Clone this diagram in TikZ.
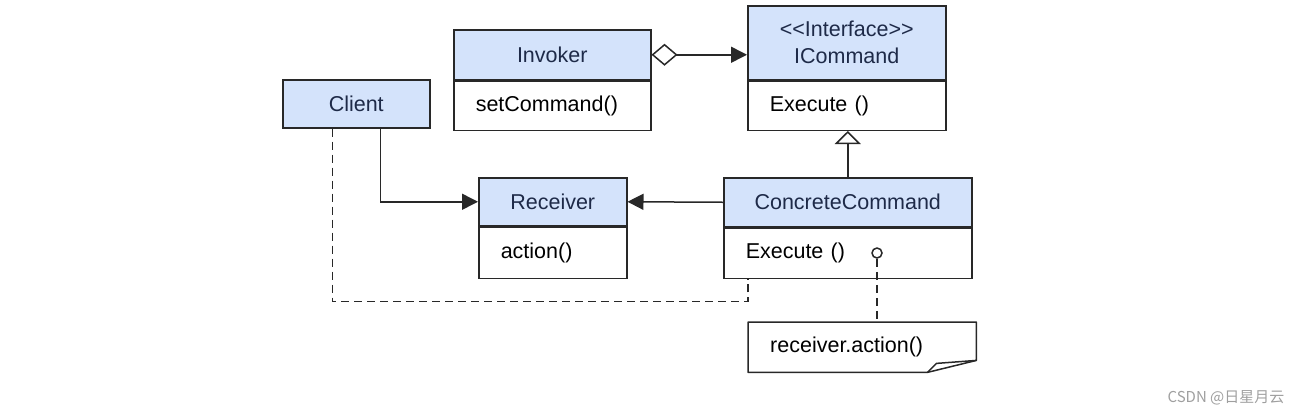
\documentclass[tikz,border=0pt]{standalone}
\usepackage{fontspec}
\setmainfont{Liberation Sans}
\newfontfamily\cjk{Noto Sans CJK SC}
\usepackage{tikz}
\usetikzlibrary{arrows.meta, positioning, calc}

\definecolor{headblue}{RGB}{212,227,251}
\definecolor{headtext}{RGB}{30,42,72}
\definecolor{edge}{RGB}{40,40,40}

\begin{document}
\begin{tikzpicture}[
  x=1pt, y=-1pt,
  font=\fontsize{21.5}{27}\selectfont,
  head/.style={draw=edge, line width=1.5pt, fill=headblue, text=headtext,
               anchor=north west, inner sep=0pt, align=center},
  body/.style={draw=edge, line width=1.5pt, fill=white, inner xsep=22pt,
               inner ysep=0pt, align=left},
  notebox/.style={inner xsep=22pt, inner ysep=0pt, align=left, anchor=north west},
  line/.style={draw=edge, line width=1.5pt},
  arr/.style={line, -{Triangle[length=16pt, width=16pt]}},
  dep/.style={line, dash pattern=on 8pt off 5pt},
  ring/.style={circle, draw=edge, line width=1.5pt, fill=white, minimum size=10pt, inner sep=0pt}
]
  \useasboundingbox (0,0) rectangle (1309,416);

  % classes
  \node[head, minimum width=197pt, minimum height=50pt] (invH) at (453,29) {Invoker};
  \node[body, text width=153pt, minimum height=49pt, below=0pt of invH] (invB) {setCommand()};

  \node[head, minimum width=198pt, minimum height=74pt] (icH) at (747,5)
    {<\kern0pt<Interface>\kern0pt>\\ICommand};
  \node[body, text width=154pt, minimum height=49pt, below=0pt of icH] (icB) {Execute ()};

  \node[head, minimum width=147pt, minimum height=48pt] (client) at (282,79) {Client};

  \node[head, minimum width=148pt, minimum height=48pt] (recvH) at (478,177) {Receiver};
  \node[body, text width=104pt, minimum height=51pt, below=0pt of recvH] (recvB) {action()};

  \node[head, minimum width=248pt, minimum height=49pt] (ccH) at (723,177) {ConcreteCommand};
  \node[body, text width=204pt, minimum height=50pt, below=0pt of ccH] (ccB) {Execute ()};

  % note
  \node[notebox, text width=184pt, minimum height=50pt] (note) at (748,322) {receiver.action()};
  \draw[line, line join=round] (note.north west) -- (note.north east)
    -- ([yshift=12pt]note.south east) -- ([xshift=-49pt]note.south east)
    -- (note.south west) -- cycle;
  \draw[line, line join=round] ([xshift=-49pt]note.south east)
    -- ([xshift=-40pt, yshift=9pt]note.south east) -- ([yshift=12pt]note.south east);

  % connectors
  \draw[arr, {Diamond[open, fill=white, length=26pt, width=22pt]}-{Triangle[length=16pt, width=16pt]}]
    (invH.east) -- (invH.east -| icH.west);
  \draw[line, -{Triangle[open, fill=white, length=13pt, width=26pt]}]
    (ccH.north) -- (ccH.north |- icB.south);
  \draw[arr] ([xshift=24pt]client.south) |- (recvH.west);
  \draw[arr] (ccH.west) -- (recvH.east);
  \draw[dep] ([xshift=-24pt]client.south) -- ++(0,173) -| ([xshift=25pt]ccB.south west);

  \node[ring] (knob) at (877,253) {};
  \draw[dep] (knob) -- (knob |- note.north);

  \node[text=gray!75, font=\cjk\fontsize{15}{18}\selectfont] (mark) at (1226,398) {CSDN @日星月云};
\end{tikzpicture}
\end{document}
